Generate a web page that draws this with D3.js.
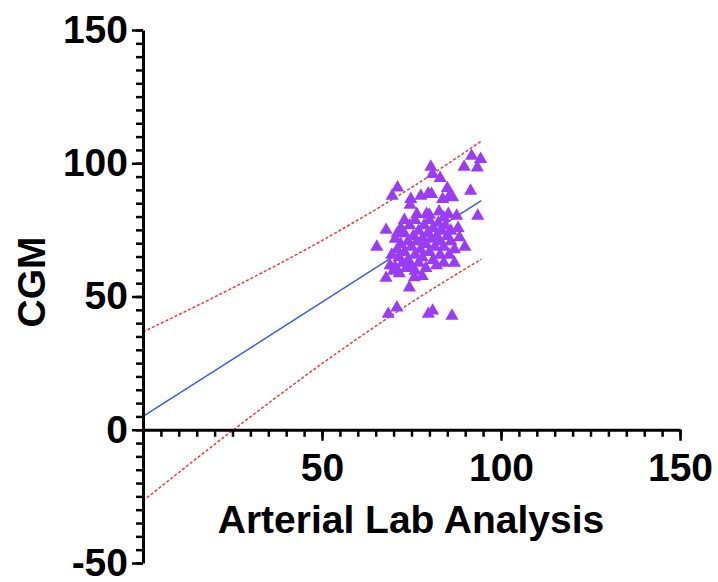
<!DOCTYPE html>
<html>
<head>
<meta charset="utf-8">
<script src="https://cdn.jsdelivr.net/npm/d3@7"></script>
<style>
  body { margin: 0; background: #fff; }
  text { font-family: "Liberation Sans", Arial, sans-serif; font-weight: bold; }
</style>
</head>
<body>
<div id="chart"></div>
<script>
// scatter: [arterial lab, CGM]
const labValues = [91.8, 94.3, 89.7, 93.4, 91.5, 93.5, 80.4, 80.9, 83.0, 71.1, 69.6, 74.8, 74.6, 77.6, 79.7, 80.6,
  85.0, 85.6, 83.7, 86.5, 76.5, 79.2, 82.7, 85.3, 87.6, 67.9, 65.3, 88.4, 89.9, 67.9, 71.6, 75.8, 74.4, 70.4,
  68.5, 70.9, 79.7, 80.9, 86.3,
  70.5, 71, 71.5, 72, 72.5, 73, 73, 73.5, 74, 74, 74.5, 75, 75, 75.5, 76, 76, 76.5, 77, 77, 77.5, 78, 78, 78.5,
  79, 79, 79.5, 80, 80, 80.5, 81, 81, 81.5, 82, 82, 82.5, 83, 83, 83.5, 84, 84, 84.5, 85, 85.5, 86, 86, 87, 87,
  72, 69.5, 69, 70, 76, 78, 80, 84, 88, 73, 71];
const cgmValues = [103.1, 101.9, 99.0, 98.7, 90.0, 80.6, 99.0, 96.3, 94.8, 91.2, 88.1, 86.9, 84.7, 88.1, 89.0, 88.8,
  91.0, 88.1, 86.9, 87.5, 81.3, 81.3, 82.2, 81.3, 80.6, 75.3, 69.0, 72.5, 69.0, 57.3, 59.0, 57.5, 53.7, 61.5,
  43.8, 46.2, 43.8, 45.0, 43.1,
  72, 68, 65, 70, 63, 74, 67, 61, 71, 64, 77, 69, 62, 73, 66, 79, 71, 63, 75, 68, 72, 65, 77,
  70, 61, 74, 67, 79, 72, 64, 76, 69, 73, 62, 78, 66, 71, 75, 63, 69, 77, 73, 66, 71, 75, 68, 63,
  76, 66, 62, 60, 60, 58, 81, 80, 76, 79, 74];

// fit line and prediction band
const fitX = [0, 25, 50, 75, 94.5];
const fitY = [5.0, 26.4, 47.9, 69.3, 86.0];
const bandUpper = [36.7, 53.2, 71.0, 90.9, 108.3];
const bandLower = [-26.7, -0.3, 24.8, 47.8, 64.0];

const xMajor = [0, 50, 100, 150];
const yMajor = [-50, 0, 50, 100, 150];
const xTitle = 'Arterial Lab Analysis';
const yTitle = 'CGM';

const width = 718, height = 582;
const svg = d3.select('#chart').append('svg')
  .attr('width', width)
  .attr('height', height);

const x = d3.scaleLinear().domain([0, 150]).range([143, 680]);
const y = d3.scaleLinear().domain([-50, 150]).range([563, 30]);

// lines
const line = d3.line().curve(d3.curveMonotoneX)
  .x(d => x(d[0]))
  .y(d => y(d[1]));

svg.append('path')
  .attr('d', line(d3.zip(fitX, fitY)))
  .attr('fill', 'none')
  .attr('stroke', '#3a5cf0')
  .attr('stroke-width', 1.5);

[bandUpper, bandLower].forEach(band => {
  svg.append('path')
    .attr('d', line(d3.zip(fitX, band)))
    .attr('fill', 'none')
    .attr('stroke', '#f03a3a')
    .attr('stroke-width', 1.5)
    .attr('stroke-dasharray', '3,2');
});

// points
const tri = d3.symbol().type(d3.symbolTriangle).size(75);
svg.append('g')
  .selectAll('path')
  .data(d3.zip(labValues, cgmValues))
  .enter()
  .append('path')
  .attr('d', tri)
  .attr('transform', d => `translate(${x(d[0])},${y(d[1]) + 1})`)
  .attr('fill', '#9a3cf4');

// axes
function styleAxis(g) {
  g.select('.domain').attr('stroke-width', 3).attr('stroke', '#000');
  g.selectAll('.tick line').attr('stroke-width', 2.5).attr('stroke', '#000');
  g.selectAll('.tick text').attr('fill', '#000').style('font-size', '39px');
}

svg.append('g')
  .attr('transform', `translate(0,${y(0)})`)
  .call(d3.axisBottom(x).tickValues(d3.range(0, 151, 5)).tickSize(7).tickSizeOuter(0).tickFormat(''))
  .call(styleAxis);

svg.append('g')
  .attr('transform', `translate(0,${y(0)})`)
  .call(d3.axisBottom(x).tickValues(xMajor).tickSize(11).tickSizeOuter(0).tickPadding(13)
    .tickFormat(d => d === 0 ? '' : String(d)))
  .call(styleAxis)
  .select('.domain').remove();

svg.append('g')
  .attr('transform', `translate(${x(0)},0)`)
  .call(d3.axisLeft(y).tickValues(d3.range(-50, 151, 5)).tickSize(7).tickSizeOuter(0).tickFormat(''))
  .call(styleAxis);

svg.append('g')
  .attr('transform', `translate(${x(0)},0)`)
  .call(d3.axisLeft(y).tickValues(yMajor).tickSize(11).tickSizeOuter(0).tickPadding(4)
    .tickFormat(d => String(d)))
  .call(styleAxis)
  .select('.domain').remove();

// titles
svg.append('text')
  .attr('x', 411)
  .attr('y', 533)
  .attr('text-anchor', 'middle')
  .style('font-size', '39px')
  .text(xTitle);

svg.append('text')
  .attr('transform', 'translate(45,282) rotate(-90)')
  .attr('text-anchor', 'middle')
  .style('font-size', '39px')
  .text(yTitle);
</script>
</body>
</html>
